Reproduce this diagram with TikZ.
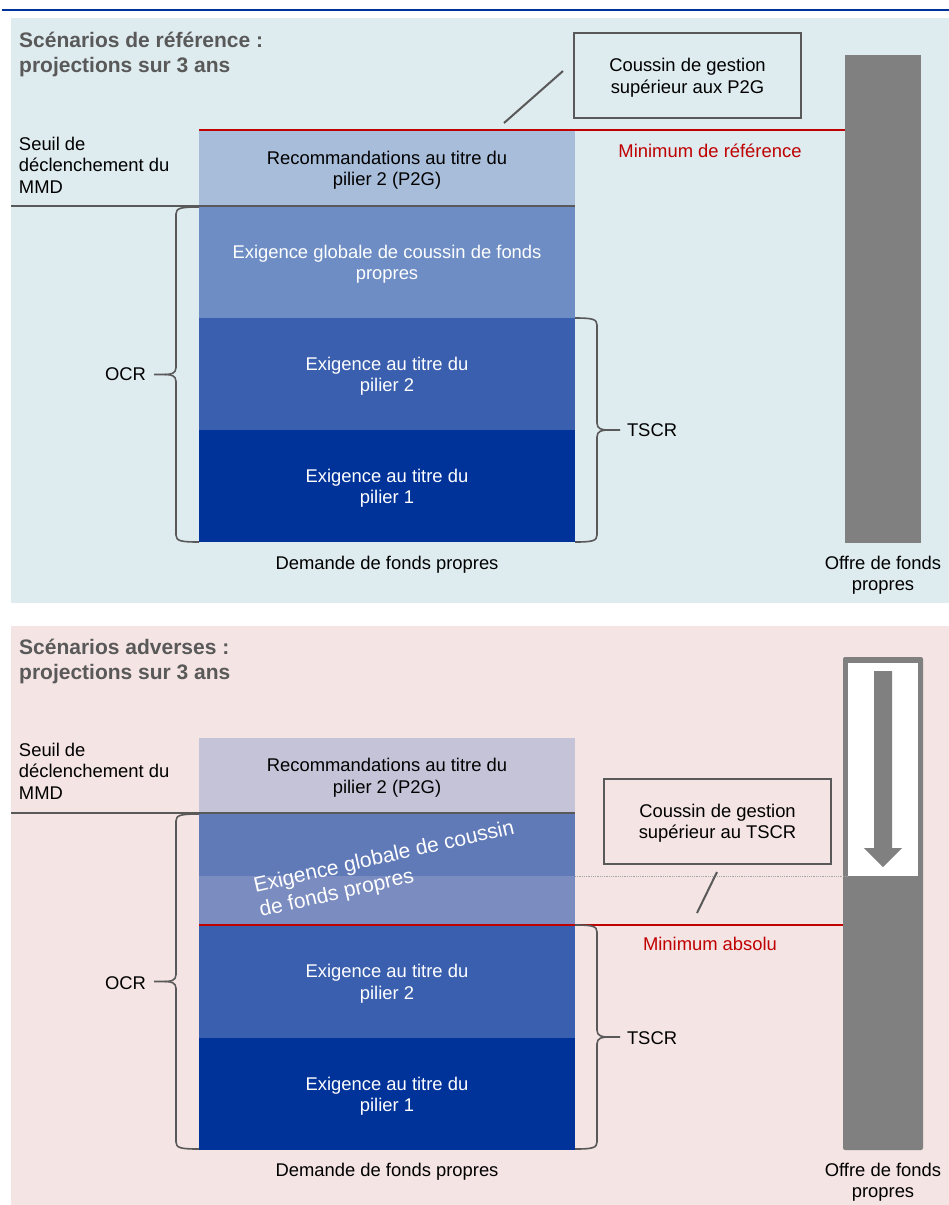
\documentclass[tikz,border=0pt]{standalone}
\usepackage{fontspec}
\setmainfont{Liberation Sans}
\definecolor{topbg}{HTML}{DEEBEF}
\definecolor{botbg}{HTML}{F5E4E4}
\definecolor{cPtga}{HTML}{A8BDDA}
\definecolor{cCba}{HTML}{6D8DC4}
\definecolor{cPtgb}{HTML}{C5C3D8}
\definecolor{cCbb}{HTML}{6079B7}
\definecolor{cCbc}{HTML}{7B8CC0}
\definecolor{cPil}{HTML}{3A5FAE}
\definecolor{cPi}{HTML}{003399}
\definecolor{cGray}{HTML}{808080}
\definecolor{cDark}{HTML}{595959}
\definecolor{cRed}{HTML}{C00000}
\definecolor{cBlue}{HTML}{003399}
\newcommand{\tup}{\rule{0pt}{18pt}}
\newcommand{\bracel}[4]{% xvert, ytop, ybottom, xend ; tip is 22 left
  \draw[brace] (#4,#2) .. controls ({#1+5},#2) and (#1,{#2+1}) .. (#1,{#2+7})
    -- (#1,{(#2+#3)/2-7}) .. controls (#1,{(#2+#3)/2-1}) and ({#1-5},{(#2+#3)/2}) .. ({#1-11},{(#2+#3)/2})
    -- ({#1-22},{(#2+#3)/2});
  \draw[brace] ({#1-11},{(#2+#3)/2}) .. controls ({#1-5},{(#2+#3)/2}) and (#1,{(#2+#3)/2+1}) .. (#1,{(#2+#3)/2+7})
    -- (#1,{#3-7}) .. controls (#1,{#3-1}) and ({#1+5},#3) .. (#4,#3);}
\newcommand{\bracer}[4]{% xvert, ytop, ybottom, xstart ; tip is 23 right
  \draw[brace] (#4,#2) .. controls ({#1-5},#2) and (#1,{#2+1}) .. (#1,{#2+7})
    -- (#1,{(#2+#3)/2-7}) .. controls (#1,{(#2+#3)/2-1}) and ({#1+5},{(#2+#3)/2}) .. ({#1+11},{(#2+#3)/2})
    -- ({#1+23},{(#2+#3)/2});
  \draw[brace] ({#1+11},{(#2+#3)/2}) .. controls ({#1+5},{(#2+#3)/2}) and (#1,{(#2+#3)/2+1}) .. (#1,{(#2+#3)/2+7})
    -- (#1,{#3-7}) .. controls (#1,{#3-1}) and ({#1-5},#3) .. (#4,#3);}
\begin{document}
\begin{tikzpicture}[x=1pt,y=-1pt,
  txt/.style={font=\fontsize{18.4}{21.5}\selectfont, inner sep=0pt, outer sep=0pt, align=center},
  ltxt/.style={txt, align=left},
  ttl/.style={font=\fontsize{21}{25}\selectfont\bfseries, text=cDark, inner sep=0pt, align=left},
  bar/.style={txt, minimum width=376pt, inner sep=0pt, outer sep=0pt},
  panel/.style={inner sep=0pt, outer sep=0pt, anchor=north west},
  callout/.style={txt, draw=cDark, line width=2pt, minimum width=227pt, minimum height=85pt},
  redtxt/.style={txt, text=cRed},
  brace/.style={draw=cDark, line width=1.6pt},
  divline/.style={draw=cDark, line width=2.4pt},
  minline/.style={draw=cRed, line width=2.4pt},
  leader/.style={draw=cDark, line width=2pt},
]
\useasboundingbox (0,0) rectangle (949,1205);
\fill[white] (0,0) rectangle (949,1205);
\draw[cBlue, line width=2pt] (2,10) -- (949,10);

%%%%%%%%%%%%%%%% TOP PANEL
\node[panel, fill=topbg, minimum width=938pt, minimum height=585pt] (tpanel) at (11,18) {};
\node[ttl, anchor=base west] (ttitle) at (19,72) {Scénarios de référence :\\projections sur 3 ans};
\node[ltxt, anchor=base west] (tseuil) at (19,193) {Seuil de\\déclenchement du\\MMD};

\node[bar, fill=cPtga, minimum height=76pt] (tp2g) at (387,168) {\tup Recommandations au titre du\\pilier 2 (P2G)};
\node[bar, fill=cCba, minimum height=112pt, text=white] (tcb) at (387,262) {\tup Exigence globale de coussin de fonds\\propres};
\node[bar, fill=cPil, minimum height=112pt, text=white] (tpil2) at (387,374) {\tup Exigence au titre du\\pilier 2};
\node[bar, fill=cPi, minimum height=112pt, text=white] (tpil1) at (387,486) {\tup Exigence au titre du\\pilier 1};

\node[inner sep=0pt, outer sep=0pt, fill=cGray, minimum width=76pt, minimum height=488pt] (tsup) at (883,299) {};

\draw[minline] (tp2g.north west) -- (tsup.west |- tp2g.north);
\draw[divline] (tpanel.west |- tcb.north) -- (tcb.north east);

\node[callout] (tcall) at (687.5,75.5) {\tup Coussin de gestion\\supérieur aux P2G};
\coordinate (tla) at (563,71);
\coordinate (tlb) at (504,123);
\draw[leader] (tla) -- (tlb);
\node[redtxt] (tmin) at (710,151) {Minimum de référence};

\bracel{176}{207}{542}{199}
\node[txt, anchor=east] (tocr) at (146,374) {OCR};
\bracer{597}{318}{542}{575}
\node[txt, anchor=west] (ttscr) at (627,430) {TSCR};

\node[txt] (tdem) at (387,562) {\tup Demande de fonds propres};
\node[txt] (toff) at (883,573) {\tup Offre de fonds\\propres};

%%%%%%%%%%%%%%%% BOTTOM PANEL
\node[panel, fill=botbg, minimum width=938pt, minimum height=579pt] (bpanel) at (11,626) {};
\node[ttl, anchor=base west] (btitle) at (19,679) {Scénarios adverses :\\projections sur 3 ans};
\node[ltxt, anchor=base west] (bseuil) at (19,799) {Seuil de\\déclenchement du\\MMD};

\node[bar, fill=cPtgb, minimum height=75pt] (bp2g) at (387,775.5) {\tup Recommandations au titre du\\pilier 2 (P2G)};
\node[bar, fill=cCbb, minimum height=63pt] (bcba) at (387,844.5) {};
\node[bar, fill=cCbc, minimum height=49pt] (bcbb) at (387,900.5) {};
\node[txt, align=left, text=white, font=\fontsize{21}{25}\selectfont, rotate=12.8] (bcbt) at (387,870) {Exigence globale de coussin\\de fonds propres};
\node[bar, fill=cPil, minimum height=113pt, text=white] (bpil2) at (387,981.5) {\tup Exigence au titre du\\pilier 2};
\node[bar, fill=cPi, minimum height=112pt, text=white] (bpil1) at (387,1094) {\tup Exigence au titre du\\pilier 1};

% supply bar with arrow
\fill[cGray, rounded corners=2pt] (843,657) rectangle (923,1150);
\node[inner sep=0pt, outer sep=0pt, fill=white, minimum width=70pt, minimum height=213pt] (bsupw) at (883,769.5) {};
\fill[cGray] (874,671) -- (892,671) -- (892,848) -- (902,848) -- (883,867) -- (864,848) -- (874,848) -- cycle;

\draw[densely dotted, draw=gray!70, line width=0.8pt] (bcbb.north east) -- (bsupw.south west);
\draw[minline] (bpil2.north west) -- (843,925);
\draw[divline] (bpanel.west |- bcba.north) -- (bcba.north east);

\node[callout] (bcall) at (717.5,821) {\tup Coussin de gestion\\supérieur au TSCR};
\coordinate (bla) at (717,872);
\coordinate (blb) at (697,913);
\draw[leader] (bla) -- (blb);
\node[redtxt] (bmin) at (710,944) {Minimum absolu};

\bracel{176}{814}{1149}{199}
\node[txt, anchor=east] (bocr) at (146,983) {OCR};
\bracer{597}{925}{1149}{575}
\node[txt, anchor=west] (btscr) at (627,1038) {TSCR};

\node[txt] (bdem) at (387,1169) {\tup Demande de fonds propres};
\node[txt] (boff) at (883,1180) {\tup Offre de fonds\\propres};
\end{tikzpicture}
\end{document}
